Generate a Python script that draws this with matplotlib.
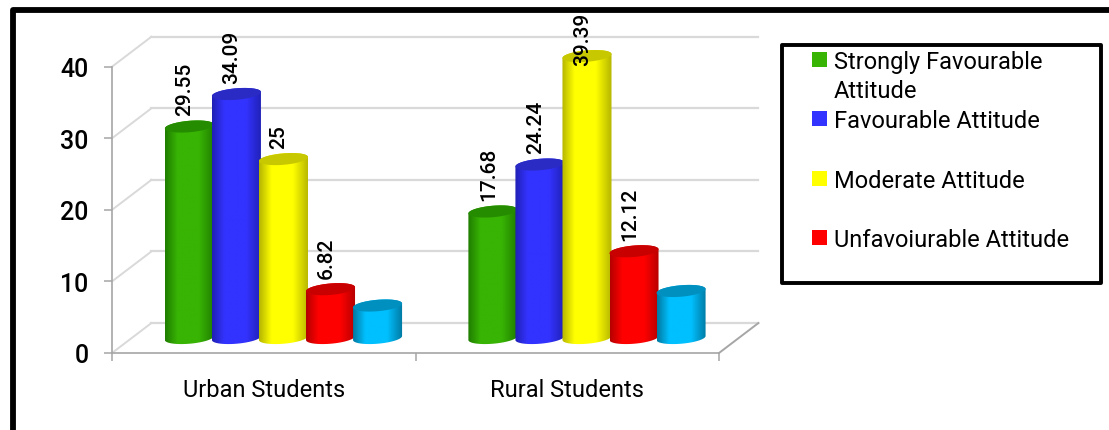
import numpy as np
import matplotlib
matplotlib.use('Agg')
import matplotlib.pyplot as plt
from matplotlib.colors import LinearSegmentedColormap
from matplotlib.patches import PathPatch, Polygon, Rectangle
from matplotlib.path import Path

groups = ['Urban Students', 'Rural Students']
legend_labels = ['Strongly Favourable\nAttitude', 'Favourable Attitude',
                 'Moderate Attitude', 'Unfavoiurable Attitude']
strongly_favourable = [29.55, 17.68]
favourable = [34.09, 24.24]
moderate = [25, 39.39]
unfavourable = [6.82, 12.12]
no_response = [4.54, 6.57]
series = [strongly_favourable, favourable, moderate, unfavourable, no_response]
y_ticks = [0, 10, 20, 30, 40]

# edge, centre and top-cap shades for each cylinder
shades = [('#1f7c00', '#38b404', '#258c00'),
          ('#2020b4', '#3333ff', '#2a2ac4'),
          ('#b4b400', '#ffff00', '#c8c800'),
          ('#b40000', '#ff0000', '#c80000'),
          ('#0078a0', '#00c0ff', '#0090c0')]

W, H = 1109, 431
FONT = 'Roboto'
GRID = '#d9d9d9'
AXIS = '#a6a6a6'

# 3D look: back wall offset and cylinder shape, in data units
DEPTH_X = 0.13
DEPTH_Y = 4.19
BAR_W = 0.1615
PITCH = 0.155
RY = 0.8
TILT = 0.28
LABEL_CAP = 40.2


def cylinder(ax, cx, value, colors, z):
    base = DEPTH_Y / 2
    top = base + value
    rx = BAR_W / 2
    t = np.linspace(np.pi, 2 * np.pi, 60)
    low_x = cx + rx * np.cos(t)
    low_y = base + RY * np.sin(t) + TILT * np.cos(t)
    t2 = np.linspace(0, np.pi, 60)
    up_x = cx + rx * np.cos(t2)
    up_y = top + RY * np.sin(t2) + TILT * np.cos(t2)
    body = Path(np.column_stack([np.r_[low_x, up_x], np.r_[low_y, up_y]]))
    clip = PathPatch(body, transform=ax.transData, facecolor='none', edgecolor='none')
    ax.add_patch(clip)
    clip.set_clip_on(False)

    edge, mid, cap = colors
    cmap = LinearSegmentedColormap.from_list(
        'cyl', [(0, edge), (0.25, mid), (0.68, mid), (1, edge)])
    im = ax.imshow(np.linspace(0, 1, 256).reshape(1, -1), cmap=cmap, aspect='auto',
                   extent=(cx - rx, cx + rx, base - 2, top + 2), zorder=z,
                   interpolation='bilinear')
    im.set_clip_path(clip)
    im.set_clip_box(ax.figure.bbox)

    t3 = np.linspace(0, 2 * np.pi, 120)
    ring = np.column_stack([cx + rx * np.cos(t3),
                            top + RY * np.sin(t3) + TILT * np.cos(t3)])
    ax.add_patch(Polygon(ring, closed=True, facecolor=cap, edgecolor='none',
                         zorder=z + 0.1, clip_on=False))


fig = plt.figure(figsize=(W / 100, H / 100), dpi=100)
ax = fig.add_axes([112 / W, (H - 354) / H, 607 / W, 286.3 / H])
ax.patch.set_visible(False)

# walls and floor
for v in y_ticks:
    ax.plot([0, DEPTH_X], [v, v + DEPTH_Y], color=GRID, lw=1.4, clip_on=False, zorder=1)
    ax.plot([DEPTH_X, 2 + DEPTH_X], [v + DEPTH_Y] * 2, color=GRID, lw=1.6, clip_on=False, zorder=1)
ax.plot([2, 2 + DEPTH_X], [0, DEPTH_Y], color=AXIS, lw=1.4, clip_on=False, zorder=1)

for g in range(len(groups)):
    center = g + 0.5 + DEPTH_X / 2
    for s, values in enumerate(series):
        cx = center + (s - 2) * PITCH
        cylinder(ax, cx, values[g], shades[s], 3 + s)
        # last series carries no value label
        if s < 4:
            top = DEPTH_Y / 2 + values[g]
            ax.text(cx - 0.015, min(top + 1.6, LABEL_CAP), f'{values[g]:g}', rotation=90,
                    ha='center', va='bottom', fontsize=15, family=FONT, weight='medium',
                    color='black', zorder=20, clip_on=False)

ax.set_xlim(0, 2)
ax.set_ylim(0, 40)
ax.set_yticks(y_ticks)
ax.set_xticks([0, 1, 2])
ax.set_xticklabels([])
ax.set_xticks([0.5, 1.5], labels=groups, minor=True)
ax.tick_params(axis='x', which='major', length=5.8, width=1.1, color=AXIS)
ax.tick_params(axis='x', which='minor', length=0, pad=18, labelsize=17)
ax.tick_params(axis='y', length=5.8, width=1.1, color=AXIS, pad=11, labelsize=18)
for lab in ax.get_xticklabels(minor=True):
    lab.set_family(FONT)
for lab in ax.get_yticklabels():
    lab.set_family(FONT)
    lab.set_weight('medium')
for side in ['top', 'right']:
    ax.spines[side].set_visible(False)
for side in ['left', 'bottom']:
    ax.spines[side].set_color(AXIS)
    ax.spines[side].set_linewidth(1.2)

# page border and legend box live on a pixel-sized overlay
over = fig.add_axes([0, 0, 1, 1], zorder=-1)
over.set_xlim(0, W)
over.set_ylim(H, 0)
over.axis('off')
over.plot([12.8, 12.8, W + 5], [H + 5, 11, 11], color='black', lw=4.2,
          solid_joinstyle='round', clip_on=False)
over.add_patch(Rectangle((782, 46), 319, 238, facecolor='white', edgecolor='black',
                         lw=2.8, joinstyle='round'))
legend_y = [61, 120, 180, 239]
for label, y, colors in zip(legend_labels, legend_y, shades):
    over.add_patch(Rectangle((812, y - 8), 15, 15, facecolor=colors[1], edgecolor='none'))
    over.text(834, y - 10, label, ha='left', va='top', fontsize=17, family=FONT,
              color='black', linespacing=1.36)

fig.savefig('out.png', dpi=100)
